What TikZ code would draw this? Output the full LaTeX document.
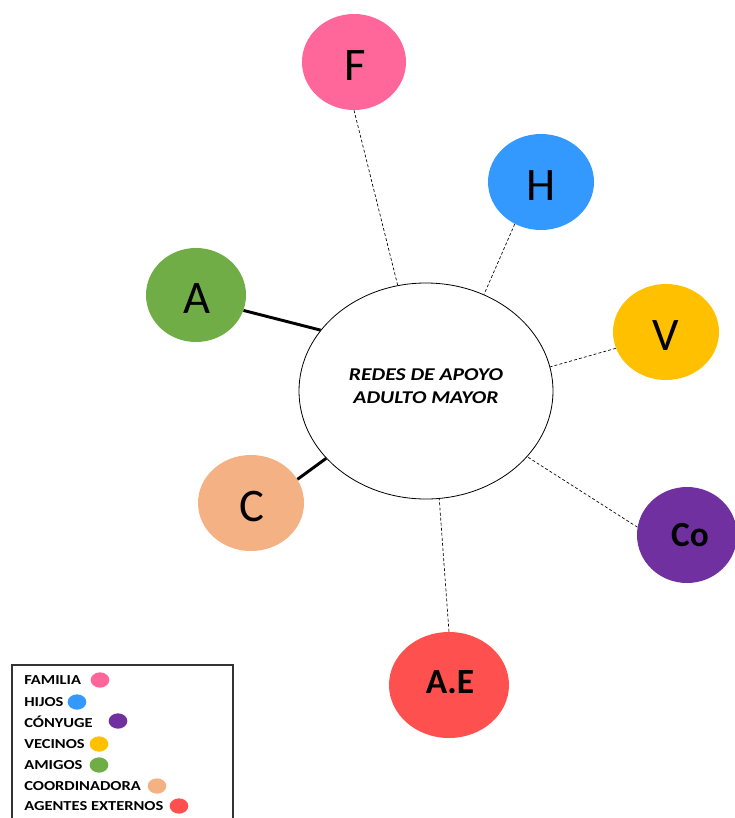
\documentclass[tikz,border=0pt]{standalone}
\usepackage{fontspec}
\setmainfont{Carlito}
\newfontfamily\widefont[FakeStretch=1.2]{Carlito}
\usetikzlibrary{shapes.geometric}
\definecolor{cF}{HTML}{FF6699}
\definecolor{cH}{HTML}{3399FF}
\definecolor{cA}{HTML}{70AD47}
\definecolor{cV}{HTML}{FFC000}
\definecolor{cC}{HTML}{F4B183}
\definecolor{cCo}{HTML}{7030A0}
\definecolor{cAE}{HTML}{FF5050}
\begin{document}
\begin{tikzpicture}[x=0.75pt,y=-0.75pt,
  bub/.style={ellipse, inner sep=0pt, draw=none},
  bigletter/.style={inner sep=0pt, font=\fontsize{35}{35}\selectfont},
  boldletter/.style={inner sep=0pt, font=\bfseries\fontsize{26.5}{26.5}\selectfont},
  dashline/.style={draw=black, line width=0.5pt, dash pattern=on 2.2pt off 1.6pt},
  thickline/.style={draw=black, line width=2.2pt},
  legtext/.style={anchor=west, inner sep=0pt, font=\widefont\bfseries\fontsize{10.3}{12}\selectfont},
  legdot/.style={ellipse, inner sep=0pt, minimum width=14pt, minimum height=11.5pt}]
\useasboundingbox (0,0) rectangle (735,818);
% centre
\node[ellipse, draw=black, line width=0.6pt, minimum width=190.5pt, minimum height=162pt, inner sep=0pt] (M) at (426,391) {};
\node[align=center, inner sep=0pt, font=\widefont\bfseries\itshape\fontsize{13.5}{17.2}\selectfont] (MT) at (426,386) {REDES DE APOYO\\ADULTO MAYOR};
% bubbles
\node[bub, fill=cF, minimum width=78pt, minimum height=72pt] (F) at (354,62) {};
\node[bub, fill=cH, minimum width=79.5pt, minimum height=72pt] (H) at (541,182) {};
\node[bub, fill=cA, minimum width=75pt, minimum height=70.5pt] (A) at (196,295) {};
\node[bub, fill=cV, minimum width=79.5pt, minimum height=72pt] (V) at (666,332) {};
\node[bub, fill=cC, minimum width=79.5pt, minimum height=72pt] (C) at (251,503) {};
\node[bub, fill=cCo, minimum width=75pt, minimum height=72pt] (Co) at (687,535) {};
\node[bub, fill=cAE, minimum width=90pt, minimum height=79.5pt] (AE) at (449,685) {};
\node[bigletter] (Ft) at (355,66) {F};
\node[bigletter] (Ht) at (541,186) {H};
\node[bigletter] (At) at (197,299) {A};
\node[bigletter] (Vt) at (666,336) {V};
\node[bigletter] (Ct) at (252,507) {C};
\node[boldletter] (Cot) at (690,535) {Co};
\node[boldletter] (AEt) at (450,682) {A.E};
% connectors
\draw[dashline] (F.south) -- (M.105);
\draw[dashline] (H.238) -- (M.59);
\draw[thickline] (A.-18) -- (M.150);
\draw[dashline] (V.198) -- (M.11);
\draw[thickline] (C.27) -- (M.214);
\draw[dashline] (Co.171) -- (M.-33);
\draw[dashline] (AE.north) -- (M.-83);
% legend
\coordinate (LB1) at (12,818);
\coordinate (LB2) at (12,665);
\coordinate (LB3) at (233,665);
\coordinate (LB4) at (233,818);
\draw[line width=0.8pt, black!80] (LB1) -- (LB2) -- (LB3) -- (LB4);
\node[legtext] (t1) at (24,680) {FAMILIA};
\node[legdot, fill=cF] (d1) at (100,680) {};
\node[legtext] (t2) at (24,702) {HIJOS};
\node[legdot, fill=cH] (d2) at (77,702) {};
\node[legtext] (t3) at (24,722) {CÓNYUGE};
\node[legdot, fill=cCo] (d3) at (118,721) {};
\node[legtext] (t4) at (24,744) {VECINOS};
\node[legdot, fill=cV] (d4) at (99,744) {};
\node[legtext] (t5) at (24,765) {AMIGOS};
\node[legdot, fill=cA] (d5) at (99,765) {};
\node[legtext] (t6) at (24,786) {COORDINADORA};
\node[legdot, fill=cC] (d6) at (157,786) {};
\node[legtext] (t7) at (24,806) {AGENTES EXTERNOS};
\node[legdot, fill=cAE] (d7) at (179,806) {};
\end{tikzpicture}
\end{document}
